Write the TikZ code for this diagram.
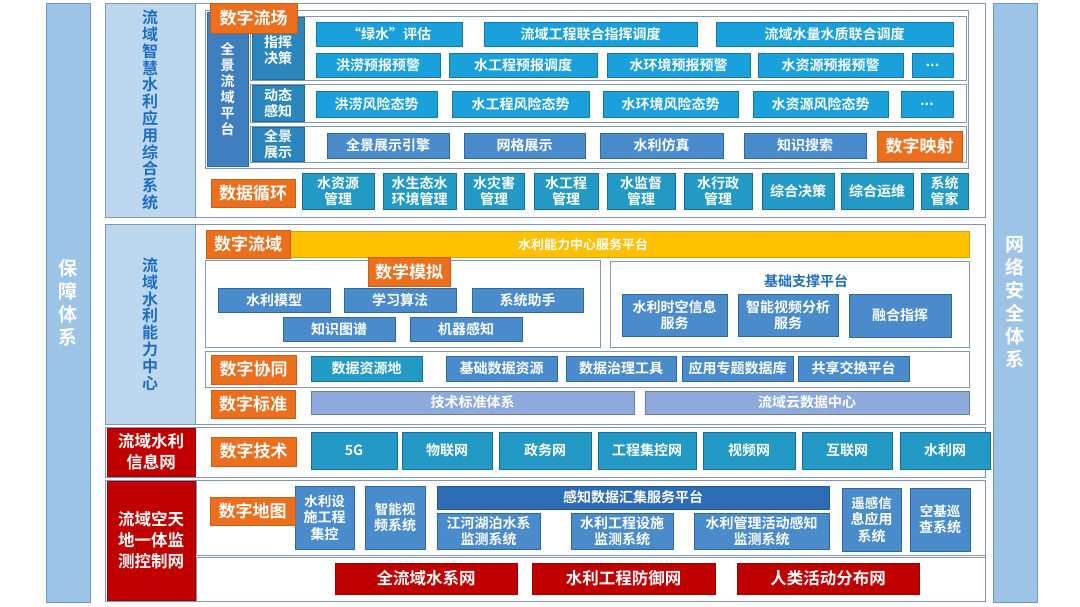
\documentclass[tikz,border=0pt]{standalone}
\usepackage{fontspec}
\setmainfont{Noto Sans CJK SC}[BoldFont={Noto Sans CJK SC Bold}]
\usetikzlibrary{shadows}
\definecolor{frameC}{HTML}{8497B0}
\definecolor{sideC}{HTML}{9DC3E6}
\definecolor{sideD}{HTML}{6F95C2}
\definecolor{labC}{HTML}{BDD7EE}
\definecolor{labT}{HTML}{1F6FC0}
\definecolor{orC}{HTML}{EC6F1E}
\definecolor{azC}{HTML}{1AA0DA}
\definecolor{azD}{HTML}{1577AE}
\definecolor{rlC}{HTML}{2B86BE}
\definecolor{pfC}{HTML}{3F7FBF}
\definecolor{mbC}{HTML}{4A8CCB}
\definecolor{mbD}{HTML}{2F679E}
\definecolor{tlC}{HTML}{2399C6}
\definecolor{tlD}{HTML}{1A6E94}
\definecolor{lvC}{HTML}{8EA9DB}
\definecolor{dbC}{HTML}{2E6DB5}
\definecolor{rdC}{HTML}{C00000}
\definecolor{ylC}{HTML}{FFC000}
\newcommand{\bx}[7]{\node[#2, minimum width={#5-#3}, minimum height={#6-#4}] (#1) at ({(#3+#5)/2},{(#4+#6)/2}) {#7};}
\begin{document}
\begin{tikzpicture}[x=1pt,y=-1pt,
  base/.style={inner sep=1pt, outer sep=0pt, align=center, text=white, font=\bfseries\fontsize{14}{16.5}\selectfont},
  frame/.style={base, draw=frameC, line width=0.8pt, fill=white},
  openframe/.style={base, draw=frameC, line width=0.8pt},
  side/.style={base, fill=sideC, draw=sideD, line width=0.8pt, font=\bfseries\fontsize{19}{23}\selectfont},
  lab/.style={base, fill=labC, draw=frameC, line width=0.8pt, text=labT, font=\bfseries\fontsize{16}{16.8}\selectfont},
  tag/.style={base, fill=orC, draw=orC!85!black, line width=0.4pt, font=\bfseries\fontsize{17}{20}\selectfont, drop shadow={opacity=0.35, shadow xshift=1.2pt, shadow yshift=-1.2pt}},
  az/.style={base, fill=azC, draw=azD, line width=0.6pt},
  rowlab/.style={base, fill=rlC, draw=rlC!80!black, line width=0.6pt},
  plat/.style={base, fill=pfC, draw=pfC!80!black, line width=0.6pt, font=\bfseries\fontsize{14}{16}\selectfont},
  mb/.style={base, fill=mbC, draw=mbD, line width=0.6pt},
  tl/.style={base, fill=tlC, draw=tlD, line width=0.6pt},
  lv/.style={base, fill=lvC, draw=lvC!75!black, line width=0.6pt},
  db/.style={base, fill=dbC, draw=dbC!80!black, line width=0.6pt},
  red/.style={base, fill=rdC, draw=rdC!80!black, line width=0.6pt, font=\bfseries\fontsize{16.5}{21}\selectfont},
  yl/.style={base, fill=ylC, draw=ylC!85!black, line width=0.6pt}
]
\useasboundingbox (0,0) rectangle (1080,607);
\fill[white] (0,0) rectangle (1080,607);

% side columns
\bx{bz}{side}{46}{3}{90}{602}{保\\障\\体\\系}
\bx{wl}{side}{993}{3}{1037}{602}{网\\络\\安\\全\\体\\系}

% ===== Section 1 =====
\bx{s1}{frame}{105}{3}{985}{217}{}
\bx{s1l}{lab}{105}{3}{195}{217}{流\\域\\智\\慧\\水\\利\\应\\用\\综\\合\\系\\统}
\bx{pf}{frame}{205}{10}{968}{168}{}
\bx{qj}{plat}{207}{12}{248}{166}{全\\景\\流\\域\\平\\台}
\bx{r1}{frame}{250}{16}{966}{80}{}
\bx{r2}{frame}{250}{84}{966}{122}{}
\bx{r3}{frame}{250}{126}{966}{162}{}
\bx{r1l}{rowlab}{252}{17}{304}{79}{}
\node[base] (r1t) at (278,50) {指挥\\决策};
\bx{r2l}{rowlab}{252}{85}{304}{121}{动态\\感知}
\bx{r3l}{rowlab}{252}{127}{304}{161}{全景\\展示}
\bx{a1}{az}{316}{22}{462}{46}{“绿水”评估}
\bx{a2}{az}{484}{22}{697}{46}{流域工程联合指挥调度}
\bx{a3}{az}{716}{22}{953}{46}{流域水量水质联合调度}
\bx{b1}{az}{316}{53}{440}{77}{洪涝预报预警}
\bx{b2}{az}{449}{53}{597}{77}{水工程预报调度}
\bx{b3}{az}{607}{53}{750}{77}{水环境预报预警}
\bx{b4}{az}{758}{53}{903}{77}{水资源预报预警}
\bx{b5}{az}{912}{53}{953}{77}{...}
\bx{c1}{az}{316}{91}{437}{117}{洪涝风险态势}
\bx{c2}{az}{452}{91}{589}{117}{水工程风险态势}
\bx{c3}{az}{603}{91}{738}{117}{水环境风险态势}
\bx{c4}{az}{753}{91}{888}{117}{水资源风险态势}
\bx{c5}{az}{901}{91}{953}{117}{...}
\bx{d1}{mb}{327}{133}{449}{158}{全景展示引擎}
\bx{d2}{mb}{464}{133}{585}{158}{网格展示}
\bx{d3}{mb}{600}{133}{723}{158}{水利仿真}
\bx{d4}{mb}{744}{133}{866}{158}{知识搜索}
\bx{t2}{tag}{877}{131}{962}{161}{数字映射}
\bx{t1}{tag}{210}{3}{297}{33}{数字流场}
\bx{t3}{tag}{211}{179}{295}{207}{数据循环}
\bx{e1}{tl}{302}{173}{374}{209}{水资源\\管理}
\bx{e2}{tl}{383}{173}{456}{209}{水生态水\\环境管理}
\bx{e3}{tl}{464}{173}{524}{209}{水灾害\\管理}
\bx{e4}{tl}{534}{173}{598}{209}{水工程\\管理}
\bx{e5}{tl}{607}{173}{675}{209}{水监督\\管理}
\bx{e6}{tl}{684}{173}{752}{209}{水行政\\管理}
\bx{e7}{tl}{762}{173}{834}{209}{综合决策}
\bx{e8}{tl}{841}{173}{913}{209}{综合运维}
\bx{e9}{tl}{921}{173}{968}{209}{系统\\管家}

% ===== Section 2 =====
\bx{s2}{frame}{105}{224}{985}{424}{}
\bx{s2l}{lab}{105}{224}{195}{424}{流\\域\\水\\利\\能\\力\\中\\心}
\bx{yb}{yl}{290}{231}{969}{257}{}
\node[base, font=\bfseries\fontsize{13}{15}\selectfont] (ybt) at (583,244) {水利能力中心服务平台};
\bx{t4}{tag}{206}{230}{290}{258}{数字流域}
\bx{sm}{frame}{205}{260}{600}{347}{}
\bx{jc}{frame}{610}{261}{969}{347}{}
\bx{t5}{tag}{368}{257}{450}{286}{数学模拟}
\bx{f1}{mb}{218}{288}{330}{312}{水利模型}
\bx{f2}{mb}{344}{288}{456}{312}{学习算法}
\bx{f3}{mb}{472}{288}{583}{312}{系统助手}
\bx{f4}{mb}{283}{317}{395}{341}{知识图谱}
\bx{f5}{mb}{410}{317}{522}{341}{机器感知}
\node[base, text=labT, font=\bfseries\fontsize{14}{16}\selectfont] (jct) at (806,281) {基础支撑平台};
\bx{g1}{mb}{622}{294}{727}{336}{水利时空信息\\服务}
\bx{g2}{mb}{738}{294}{838}{336}{智能视频分析\\服务}
\bx{g3}{mb}{849}{294}{951}{337}{融合指挥}
\bx{xt}{frame}{205}{351}{969}{387}{}
\bx{t6}{tag}{211}{355}{296}{384}{数字协同}
\bx{h1}{tl}{311}{356}{422}{381}{数据资源地}
\bx{h2}{mb}{446}{356}{557}{381}{基础数据资源}
\bx{h3}{mb}{566}{356}{676}{381}{数据治理工具}
\bx{h4}{mb}{682}{356}{793}{381}{应用专题数据库}
\bx{h5}{mb}{798}{356}{909}{381}{共享交换平台}
\bx{t7}{tag}{211}{390}{295}{418}{数字标准}
\bx{i1}{lv}{311}{391}{634}{414}{技术标准体系}
\bx{i2}{lv}{645}{391}{969}{414}{流域云数据中心}

% ===== Section 3 =====
\bx{s3}{frame}{105}{427}{985}{477}{}
\bx{s3l}{red}{107}{428}{195}{476}{流域水利\\信息网}
\bx{t8}{tag}{211}{437}{296}{466}{数字技术}
\bx{j1}{tl}{311}{432}{397}{469}{5G}
\bx{j2}{tl}{402}{432}{492}{469}{物联网}
\bx{j3}{tl}{499}{432}{591}{469}{政务网}
\bx{j4}{tl}{598}{432}{696}{469}{工程集控网}
\bx{j5}{tl}{703}{432}{795}{469}{视频网}
\bx{j6}{tl}{802}{432}{892}{469}{互联网}
\bx{j7}{tl}{900}{432}{990}{469}{水利网}

% ===== Section 4 =====
\bx{s4}{frame}{105}{480}{985}{601}{}
\bx{s4a}{openframe}{196}{480}{985}{555}{}
\bx{s4b}{openframe}{196}{557}{985}{601}{}
\bx{s4l}{red}{107}{481}{195}{600}{流域空天\\地一体监\\测控制网}
\bx{k1}{mb}{295}{486}{354}{549}{\fontsize{13.5}{19}\selectfont 水利设\\施工程\\集控}
\bx{k2}{mb}{365}{486}{425}{549}{\fontsize{13.5}{19}\selectfont 智能视\\频系统}
\bx{t9}{tag}{210}{497}{295}{525}{数字地图}
\bx{k3}{db}{437}{486}{829}{509}{感知数据汇集服务平台}
\bx{k4}{mb}{437}{513}{540}{549}{江河湖泊水系\\监测系统}
\bx{k5}{mb}{571}{513}{673}{549}{水利工程设施\\监测系统}
\bx{k6}{mb}{694}{513}{829}{549}{水利管理活动感知\\监测系统}
\bx{k7}{mb}{842}{488}{901}{551}{\fontsize{13.5}{19}\selectfont 遥感信\\息应用\\系统}
\bx{k8}{mb}{910}{488}{970}{551}{\fontsize{13.5}{19}\selectfont 空基巡\\查系统}
\bx{m1}{red}{335}{563}{517}{594}{全流域水系网}
\bx{m2}{red}{532}{563}{715}{594}{水利工程防御网}
\bx{m3}{red}{737}{563}{919}{594}{人类活动分布网}
\end{tikzpicture}
\end{document}
